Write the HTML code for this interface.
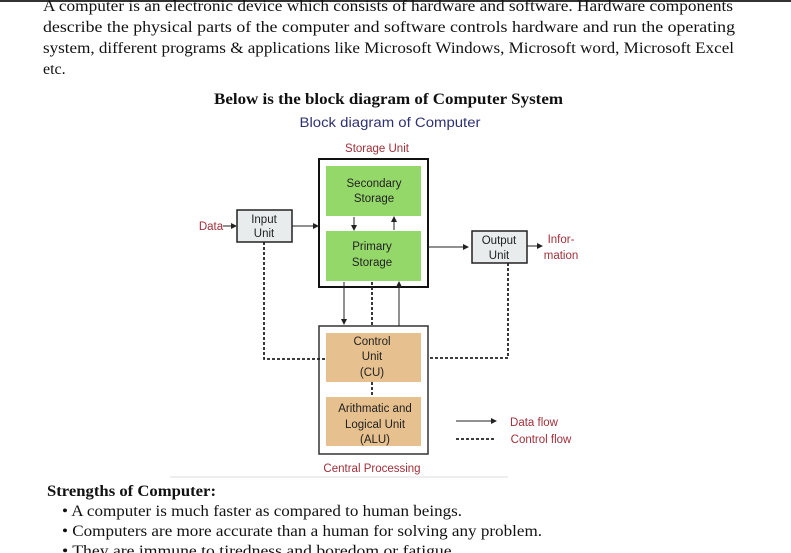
<!DOCTYPE html>
<html><head><style>html,body{margin:0;padding:0;background:#fff;width:791px;height:553px;overflow:hidden}</style></head>
<body>
<svg width="791" height="553" viewBox="0 0 791 553" xmlns="http://www.w3.org/2000/svg">
<defs>
<marker id="a" markerWidth="6" markerHeight="6" refX="5" refY="3" orient="auto" markerUnits="userSpaceOnUse"><path d="M0,0 L6,3 L0,6 z" fill="#222"/></marker>
</defs>
<rect x="0" y="0" width="791" height="2" fill="#333"/>
<g font-family="Liberation Serif, serif" font-size="16" fill="#111">
<text x="43" y="11" textLength="690" lengthAdjust="spacingAndGlyphs">A computer is an electronic device which consists of hardware and software. Hardware components</text>
<text x="43" y="32" textLength="692" lengthAdjust="spacingAndGlyphs">describe the physical parts of the computer and software controls hardware and run the operating</text>
<text x="43" y="53" textLength="691" lengthAdjust="spacingAndGlyphs">system, different programs &amp; applications like Microsoft Windows, Microsoft word, Microsoft Excel</text>
<text x="43" y="74">etc.</text>
<text x="214" y="104" font-weight="bold" textLength="349" lengthAdjust="spacingAndGlyphs">Below is the block diagram of Computer System</text>
<text x="47" y="496" font-weight="bold" textLength="169" lengthAdjust="spacingAndGlyphs">Strengths of Computer:</text>
<text x="62" y="516" textLength="400" lengthAdjust="spacingAndGlyphs">• A computer is much faster as compared to human beings.</text>
<text x="62" y="536" textLength="480" lengthAdjust="spacingAndGlyphs">• Computers are more accurate than a human for solving any problem.</text>
<text x="62" y="556" textLength="394" lengthAdjust="spacingAndGlyphs">• They are immune to tiredness and boredom or fatigue.</text>
</g>
<line x1="170" y1="477" x2="508" y2="477" stroke="#ddd" stroke-width="1"/>
<g font-family="Liberation Sans, sans-serif" font-size="11.5" text-anchor="middle">
<text x="390" y="127" fill="#2e3170" font-size="13.5" textLength="181" lengthAdjust="spacingAndGlyphs">Block diagram of Computer</text>
<g fill="#a0303a">
<text x="377" y="152">Storage Unit</text>
<text x="372" y="472">Central Processing</text>
<text x="211" y="230">Data</text>
<text x="561" y="243">Infor-</text>
<text x="561" y="259">mation</text>
<text x="534" y="426">Data flow</text>
<text x="541" y="443">Control flow</text>
</g>
<rect x="319" y="159" width="109" height="128" fill="#fff" stroke="#111" stroke-width="2"/>
<rect x="326" y="166" width="95" height="50" fill="#95d86a"/>
<rect x="326" y="231" width="95" height="50" fill="#95d86a"/>
<rect x="319" y="326" width="109" height="128" fill="#fff" stroke="#333" stroke-width="1.5"/>
<rect x="326" y="333" width="95" height="49" fill="#e6c08e"/>
<rect x="326" y="397" width="95" height="49" fill="#e6c08e"/>
<rect x="237" y="210" width="55" height="32" fill="#e8eced" stroke="#222" stroke-width="1.5"/>
<rect x="472" y="231" width="55" height="32" fill="#e8eced" stroke="#222" stroke-width="1.5"/>
<g fill="#222">
<text x="374" y="187">Secondary</text><text x="374" y="202">Storage</text>
<text x="372" y="250">Primary</text><text x="372" y="266">Storage</text>
<text x="264" y="223">Input</text><text x="264" y="237">Unit</text>
<text x="499" y="244">Output</text><text x="499" y="259">Unit</text>
<text x="372" y="345">Control</text><text x="372" y="360">Unit</text><text x="372" y="376">(CU)</text>
<text x="375" y="412">Arithmatic and</text><text x="375" y="428">Logical Unit</text><text x="375" y="443">(ALU)</text>
</g>
</g>
<g stroke="#222" stroke-width="1" fill="none">
<line x1="223" y1="226" x2="236" y2="226" marker-end="url(#a)"/>
<line x1="292" y1="226" x2="318" y2="226" marker-end="url(#a)"/>
<line x1="428" y1="247" x2="468" y2="247" marker-end="url(#a)"/>
<line x1="527" y1="246" x2="542" y2="246" marker-end="url(#a)"/>
<line x1="354" y1="217" x2="354" y2="230" marker-end="url(#a)"/>
<line x1="394" y1="230" x2="394" y2="217" marker-end="url(#a)"/>
<line x1="344" y1="282" x2="344" y2="324" marker-end="url(#a)"/>
<line x1="399" y1="326" x2="399" y2="282" marker-end="url(#a)"/>
<line x1="456" y1="421" x2="496" y2="421" marker-end="url(#a)"/>
</g>
<g stroke="#222" stroke-width="1.8" fill="none" stroke-dasharray="3,2">
<polyline points="264,242 264,359 326,359"/>
<polyline points="508,263 508,358 428,358"/>
<line x1="372" y1="282" x2="372" y2="326"/>
<line x1="372" y1="382" x2="372" y2="397"/>
<line x1="456" y1="439" x2="496" y2="439"/>
</g>
</svg>
</body></html>
